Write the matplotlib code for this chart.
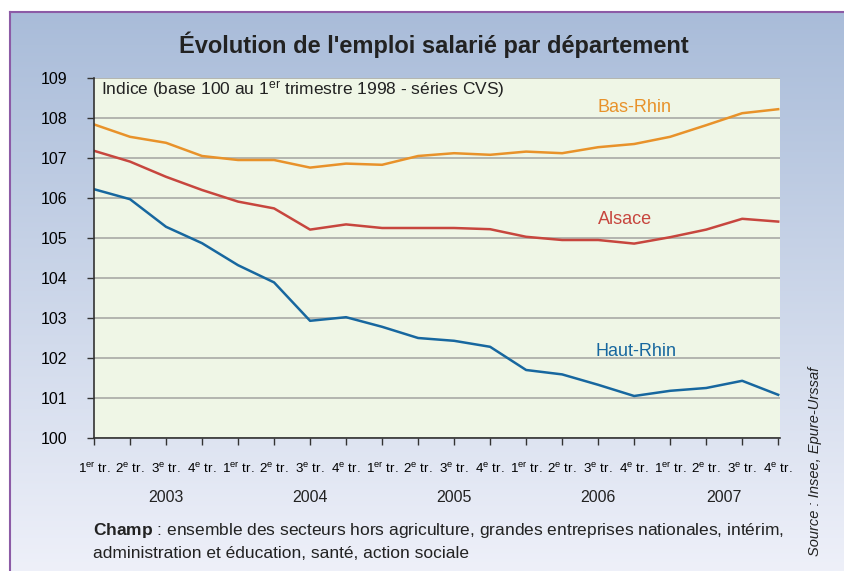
import matplotlib
matplotlib.use('Agg')
import matplotlib.pyplot as plt
import numpy as np
from matplotlib.lines import Line2D

plt.rcParams['font.family'] = ['Liberation Sans', 'DejaVu Sans']
plt.rcParams['mathtext.fontset'] = 'custom'
plt.rcParams['mathtext.rm'] = 'Liberation Sans'
plt.rcParams['mathtext.it'] = 'Liberation Sans:italic'
plt.rcParams['mathtext.bf'] = 'Liberation Sans:bold'

# Données (indice base 100 au 1er trimestre 1998)
trimestres = ['1$^{\\mathrm{er}}$ tr.', '2$^{\\mathrm{e}}$ tr.', '3$^{\\mathrm{e}}$ tr.', '4$^{\\mathrm{e}}$ tr.'] * 5
annees = ['2003', '2004', '2005', '2006', '2007']
pos_annees = [2, 6, 10, 14, 17.5]

bas_rhin = [107.84, 107.53, 107.38, 107.05, 106.95, 106.95, 106.76, 106.86, 106.83, 107.05,
            107.12, 107.08, 107.16, 107.12, 107.27, 107.35, 107.53, 107.82, 108.12, 108.22]
alsace = [107.18, 106.91, 106.53, 106.20, 105.91, 105.74, 105.21, 105.34, 105.25, 105.25,
          105.25, 105.22, 105.03, 104.95, 104.95, 104.86, 105.02, 105.21, 105.48, 105.41]
haut_rhin = [106.22, 105.97, 105.28, 104.87, 104.32, 103.89, 102.93, 103.02, 102.78, 102.50,
             102.43, 102.28, 101.70, 101.59, 101.33, 101.05, 101.18, 101.25, 101.43, 101.08]

ORANGE = '#e8922a'
ROUGE = '#c7463e'
BLEU = '#17679f'

W, H = 844, 571
fig = plt.figure(figsize=(W / 100, H / 100), dpi=100)
fig.patch.set_facecolor('white')

# fond en dégradé
bg = fig.add_axes([10 / W, 0, 1 - 10 / W, 1 - 12 / H])
grad = np.linspace(0, 1, 256)[:, None]
top = np.array([169, 188, 217]) / 255
bot = np.array([238, 240, 249]) / 255
img = top[None, None, :] * (1 - grad[:, :, None]) + bot[None, None, :] * grad[:, :, None]
bg.imshow(img, aspect='auto', extent=[0, 1, 0, 1])
bg.set_axis_off()
fig.add_artist(Line2D([10 / W, 1], [1 - 12 / H, 1 - 12 / H], color='#8c5ba6', lw=1.5))
fig.add_artist(Line2D([10 / W, 10 / W], [0, 1 - 12 / H], color='#8c5ba6', lw=1.5))

ax = fig.add_axes([94 / W, 1 - 438 / H, 686 / W, 360 / H])
ax.set_facecolor('#eff6e6')
x = np.arange(len(bas_rhin))
ax.plot(x, bas_rhin, color=ORANGE, lw=1.8)
ax.plot(x, alsace, color=ROUGE, lw=1.8)
ax.plot(x, haut_rhin, color=BLEU, lw=1.8)

ax.set_xlim(0, 19.05)
ax.set_ylim(100, 109)
ax.set_yticks(range(100, 110))
ax.yaxis.grid(True, color='#a9aaa6', lw=1.2)
ax.set_axisbelow(True)
ax.set_xticks(x)
ax.set_xticklabels(trimestres, fontsize=9.6)
ax.tick_params(axis='x', length=5, width=1, pad=12, color='#333333')
ax.tick_params(axis='y', length=5, width=1, labelsize=11.5, pad=14, color='#333333')
for s in ['top', 'right']:
    ax.spines[s].set_visible(False)
ax.spines['left'].set_color('#333333')
ax.spines['bottom'].set_color('#333333')
ax.spines['left'].set_linewidth(1.2)
ax.spines['bottom'].set_linewidth(1.2)

for p, a in zip(pos_annees, annees):
    ax.text(p, -0.165, a, transform=ax.get_xaxis_transform(), ha='center', va='center',
            fontsize=11.5, color='#222222')

ax.text(0.2, 108.7, 'Indice (base 100 au 1$^{\\mathrm{er}}$ trimestre 1998 - séries CVS)',
        fontsize=12.5, color='#222222', va='center')
ax.text(15.0, 108.27, 'Bas-Rhin', color=ORANGE, fontsize=13, ha='center', va='center')
ax.text(14.75, 105.47, 'Alsace', color=ROUGE, fontsize=13, ha='center', va='center')
ax.text(15.05, 102.17, 'Haut-Rhin', color=BLEU, fontsize=13, ha='center', va='center')

fig.text(434 / W, 1 - 45 / H, "Évolution de l'emploi salarié par département",
         ha='center', va='center', fontsize=17, fontweight='bold', color='#222222')

fig.text(93 / W, 1 - 530 / H,
         r'$\mathbf{Champ}$ : ensemble des secteurs hors agriculture, grandes entreprises nationales, intérim,',
         fontsize=12.5, va='center', color='#222222')
fig.text(93 / W, 1 - 553 / H, 'administration et éducation, santé, action sociale',
         fontsize=12.5, va='center', color='#222222')

fig.text(815 / W, 1 - 461 / H, 'Source : Insee, Epure-Urssaf', rotation=90,
         ha='center', va='center', fontsize=10.5, style='italic', color='#222222')

fig.savefig('out.png', dpi=100)
